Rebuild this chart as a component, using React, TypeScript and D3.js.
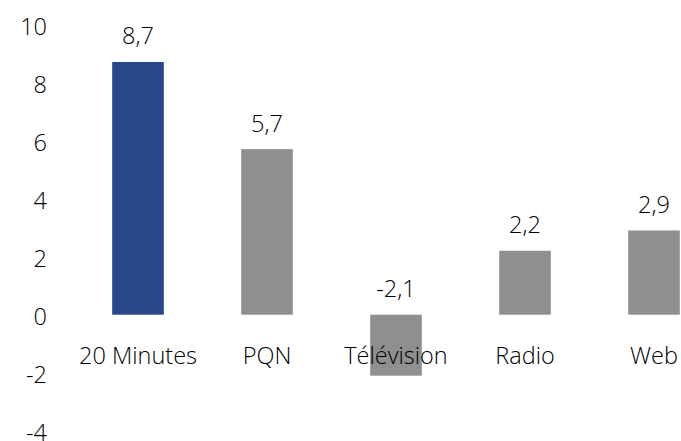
import * as d3 from 'd3'

const categories = ['20 Minutes', 'PQN', 'Télévision', 'Radio', 'Web']
const values = [8.7, 5.7, -2.1, 2.2, 2.9]
const yTicks = [10, 8, 6, 4, 2, 0, -2, -4]

const BLUE = '#264889'
const GREY = '#8f8f8f'
const FONT = "'Open Sans', 'Noto Sans', sans-serif"

export default function App() {
  const width = 681
  const height = 441

  const x = d3.scaleBand<string>()
    .domain(categories)
    .range([73.5, 718.5])
    .paddingInner(0.6)
    .paddingOuter(0.3)

  const y = d3.scaleLinear()
    .domain([-4, 10])
    .range([430.9, 24.2])

  const fmt = (v: number) => v.toFixed(1).replace('.', ',')

  return (
    <svg
      width={width}
      height={height}
      style={{position: 'absolute', left: 0, top: 0, display: 'block'}}
      fontFamily={FONT}
      fontWeight={300}
    >
      <g fontSize={23.5} fill={'#000'}>
        {yTicks.map(t => (
          <text key={t} x={47} y={y(t) + 1.5} textAnchor={'end'} dominantBaseline={'central'}>
            {t}
          </text>
        ))}
      </g>
      {categories.map((c, i) => {
        const v = values[i]
        const top = Math.min(y(v), y(0))
        return (
          <rect
            key={c}
            x={x(c)}
            y={top}
            width={x.bandwidth()}
            height={Math.abs(y(v) - y(0))}
            fill={i === 0 ? BLUE : GREY}
          />
        )
      })}
      <g fontSize={23.5} fill={'#000'} textAnchor={'middle'}>
        {categories.map((c, i) => {
          const v = values[i]
          const top = Math.min(y(v), y(0))
          return (
            <text key={c} x={(x(c) ?? 0) + x.bandwidth() / 2} y={top - 17.5}>
              {fmt(v)}
            </text>
          )
        })}
        {categories.map(c => (
          <text key={c} x={(x(c) ?? 0) + x.bandwidth() / 2} y={y(0) + 49.5}>
            {c}
          </text>
        ))}
      </g>
    </svg>
  )
}
